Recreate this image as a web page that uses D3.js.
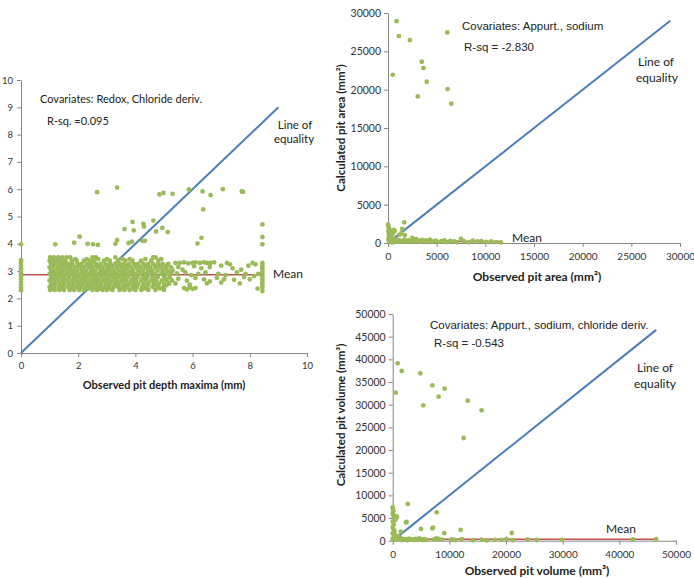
<!DOCTYPE html>
<html>
<head>
<meta charset="utf-8">
<script src="https://cdn.jsdelivr.net/npm/d3@7"></script>
<style>
  body { margin: 0; background: #fff; }
  svg text { font-family: Lato, "Open Sans", sans-serif; }
</style>
</head>
<body>
<div id="chart"></div>
<script>
// ---------- data: pit depth (left panel) ----------
const depthTicks = [0, 2, 4, 6, 8, 10];
const depthTicksY = [0, 1, 2, 3, 4, 5, 6, 7, 8, 9, 10];
const depthEquality = [[0, 0], [9, 9]];
const depthMean = [[0, 2.87], [8.45, 2.87]];

// dense band, one row per predicted level
const depthClusterRows = [
  [3.50, [1.02, 1.15, 1.3, 1.45, 1.6, 1.72, 2.5, 2.62, 3.3, 4.62, 4.7]],
  [3.44, [1.08, 1.38, 1.9, 2.3, 2.7, 3.0, 3.55, 3.8, 4.35, 4.9]],
  [3.38, [1.0, 1.12, 1.25, 1.4, 1.55, 1.78, 1.95, 2.2, 2.4, 2.55, 2.9, 3.1, 3.4, 3.65, 3.9, 4.2, 4.55, 4.8]],
  [3.26, [1.05, 1.2, 1.35, 1.5, 1.65, 1.8, 1.98, 2.12, 2.3, 2.45, 2.62, 2.78, 2.95, 3.12, 3.28, 3.45, 3.6, 3.78, 3.95, 4.1, 4.28, 4.45, 4.62, 4.8, 4.95, 5.15]],
  [3.20, [1.1, 1.46, 1.7, 2.0, 2.35, 2.66, 3.06, 3.4, 3.72, 4.05, 4.4, 4.75, 5.1]],
  [3.14, [1.0, 1.12, 1.28, 1.42, 1.58, 1.72, 1.88, 2.05, 2.2, 2.38, 2.52, 2.7, 2.85, 3.02, 3.18, 3.35, 3.52, 3.68, 3.85, 4.02, 4.18, 4.35, 4.52, 4.7, 4.88, 5.05, 5.25]],
  [3.02, [1.05, 1.2, 1.35, 1.5, 1.66, 1.8, 1.96, 2.12, 2.28, 2.45, 2.6, 2.78, 2.94, 3.1, 3.26, 3.42, 3.6, 3.76, 3.92, 4.1, 4.26, 4.44, 4.6, 4.78, 4.96, 5.12, 5.3]],
  [2.96, [1.08, 1.4, 1.82, 2.15, 2.5, 2.82, 3.22, 3.55, 3.88, 4.22, 4.58, 4.95, 5.25]],
  [2.90, [1.0, 1.14, 1.3, 1.44, 1.6, 1.75, 1.9, 2.06, 2.22, 2.38, 2.54, 2.7, 2.86, 3.02, 3.18, 3.34, 3.5, 3.68, 3.84, 4.0, 4.18, 4.36, 4.52, 4.7, 4.9, 5.08, 5.22]],
  [2.78, [1.06, 1.22, 1.38, 1.52, 1.68, 1.84, 2.0, 2.15, 2.3, 2.46, 2.62, 2.78, 2.95, 3.1, 3.26, 3.42, 3.58, 3.75, 3.92, 4.08, 4.26, 4.42, 4.6, 4.78, 5.0, 5.2]],
  [2.72, [1.1, 1.5, 1.88, 2.2, 2.58, 2.92, 3.3, 3.62, 3.98, 4.32, 4.68, 5.05]],
  [2.66, [1.0, 1.15, 1.3, 1.46, 1.62, 1.78, 1.94, 2.1, 2.25, 2.4, 2.56, 2.72, 2.88, 3.04, 3.2, 3.36, 3.52, 3.68, 3.86, 4.02, 4.2, 4.38, 4.55, 4.72, 4.92, 5.1, 5.28]],
  [2.54, [1.05, 1.2, 1.36, 1.52, 1.68, 1.84, 2.0, 2.16, 2.32, 2.48, 2.64, 2.8, 2.96, 3.12, 3.28, 3.44, 3.6, 3.78, 3.94, 4.1, 4.28, 4.46, 4.64, 4.82, 5.0, 5.18]],
  [2.48, [1.08, 1.44, 1.76, 2.08, 2.4, 2.72, 3.04, 3.36, 3.7, 4.02, 4.36, 4.72, 5.08]],
  [2.42, [1.0, 1.16, 1.32, 1.48, 1.64, 1.8, 1.96, 2.12, 2.28, 2.44, 2.6, 2.76, 2.92, 3.08, 3.24, 3.4, 3.56, 3.72, 3.9, 4.06, 4.24, 4.42, 4.6, 4.8, 4.98]],
  [2.36, [1.12, 1.42, 1.78, 2.36, 2.74, 3.1, 3.54, 3.92, 4.3, 4.86]],
  [2.31, [1.02, 1.18, 1.34, 1.5, 1.7, 1.86, 2.04, 2.2, 2.5, 2.66, 2.85, 3.0, 3.2, 3.45, 3.62, 3.8, 4.0, 4.2, 4.45, 4.7, 5.0]]
];
const depthZero = [[0, 2.3], [0, 2.4], [0, 2.5], [0, 2.6], [0, 2.7], [0, 2.8], [0, 2.9], [0, 3.0], [0, 3.1], [0, 3.2], [0, 3.3], [0, 3.4], [0, 3.98]];
const depthEdge = [[8.44, 2.4], [8.44, 2.5], [8.44, 2.6], [8.44, 2.7], [8.44, 2.8], [8.44, 2.9], [8.44, 3.0], [8.44, 3.1], [8.44, 3.2], [8.44, 3.3],
  [8.44, 3.98], [8.44, 4.25], [8.44, 4.71], [8.44, 2.27], [8.27, 2.36]];
const depthTail = [[5.4, 3.3], [5.55, 3.3], [5.7, 3.32], [5.85, 3.28], [6.0, 3.3], [6.1, 3.32], [6.25, 3.3], [6.4, 3.32], [6.5, 3.3], [6.62, 3.3], [6.75, 3.32], [7.2, 3.3], [7.3, 3.25], [7.7, 3.05], [8.1, 3.3], [8.2, 3.25],
  [5.5, 3.15], [5.65, 3.05], [6.05, 3.18], [6.3, 3.1], [6.6, 3.15], [7.0, 3.2], [7.4, 3.1], [7.95, 3.2],
  [5.45, 2.92], [5.75, 2.95], [5.95, 2.85], [6.2, 2.9], [6.45, 2.95], [6.9, 2.9], [7.15, 2.85], [7.55, 2.95], [7.85, 2.9], [8.15, 2.82], [8.3, 2.9],
  [5.5, 2.72], [5.8, 2.65], [6.1, 2.75], [6.4, 2.7], [6.6, 2.62], [6.85, 2.75], [7.1, 2.7], [7.45, 2.68], [7.8, 2.78], [8.0, 2.7],
  [5.4, 2.55], [5.9, 2.5], [6.5, 2.55], [7.0, 2.58], [7.65, 2.55],
  [5.7, 2.38], [5.8, 2.33], [5.9, 2.4], [6.0, 2.35], [6.1, 2.38]];
const depthHigh = [[1.2, 3.98], [1.86, 4.04], [2.05, 4.26], [2.33, 4.0], [2.52, 3.98], [2.69, 3.96], [2.66, 5.89], [3.36, 6.06], [3.36, 4.13], [3.3, 4.0],
  [3.62, 4.54], [3.76, 4.03], [3.9, 4.8], [3.94, 4.49], [3.88, 4.08], [4.28, 4.73], [4.3, 4.63], [4.24, 4.11], [4.33, 4.11], [4.63, 4.85],
  [4.72, 4.45], [4.84, 5.81], [4.98, 5.86], [4.94, 4.58], [5.13, 4.43], [5.3, 5.83], [5.87, 5.99], [6.17, 4.01], [6.31, 4.22], [6.35, 5.92],
  [6.37, 5.26], [6.63, 5.78], [7.06, 6.0], [7.72, 5.92], [7.76, 5.9]];

// ---------- data: pit area (top right) ----------
const areaTicks = [0, 5000, 10000, 15000, 20000, 25000, 30000];
const areaEquality = [[700, 700], [29000, 29000]];
const areaMean = [[0, 200], [11700, 200]];
const areaHigh = [[890, 28940], [1120, 26990], [2245, 26470], [6090, 27470], [480, 21940], [3470, 23640], [3640, 22820], [3980, 21030], [3060, 19120], [6120, 20080], [6500, 18170]];
const areaNear = [[0, 2400], [60, 2100], [120, 1800], [40, 1500], [200, 1650], [300, 1300], [90, 1100], [180, 900], [400, 1500], [500, 1200],
  [600, 1700], [700, 1550], [350, 700], [250, 500], [80, 300], [150, 150], [300, 250], [450, 400], [550, 100], [700, 300],
  [850, 200], [1000, 450], [1100, 150], [1200, 1100], [1350, 1250], [1460, 1830], [1665, 2700], [1730, 1040],
  [50, 600], [100, 400], [200, 200], [300, 500], [400, 100], [500, 350], [600, 550], [700, 150], [800, 400], [900, 250]];
const areaLow = [[1300, 300], [1500, 200], [1700, 450], [1900, 150], [2100, 350], [2300, 250], [2500, 650], [2550, 400], [2700, 200], [2900, 500],
  [3100, 300], [3300, 150], [3500, 400], [3700, 250], [3900, 350], [4100, 180], [4300, 450], [4600, 200], [4900, 300], [5200, 150],
  [5500, 250], [5800, 350], [6100, 120], [6400, 280], [6800, 200], [7100, 100], [7500, 550], [7800, 250], [8300, 100], [8700, 300],
  [9200, 200], [9600, 250], [10100, 150], [10600, 200], [11100, 120], [11600, 80]];

// ---------- data: pit volume (bottom right) ----------
const volumeTicksX = [0, 10000, 20000, 30000, 40000, 50000];
const volumeTicksY = [0, 5000, 10000, 15000, 20000, 25000, 30000, 35000, 40000, 45000, 50000];
const volumeEquality = [[900, 900], [46500, 46500]];
const volumeMean = [[0, 300], [46500, 300]];
const volumeHigh = [[880, 39130], [1590, 37430], [530, 32640], [4870, 36920], [6990, 34270], [9170, 33520], [8110, 31760], [5400, 29860], [13230, 30880], [15700, 28760], [12520, 22650]];
const volumeNear = [[0, 7400], [50, 7000], [100, 6500], [0, 5900], [300, 5500], [150, 5000], [500, 4600], [760, 5300], [0, 4200], [200, 3600],
  [0, 3000], [100, 2600], [300, 2100], [0, 1600], [500, 1200], [200, 800], [0, 400], [400, 200], [700, 500], [900, 900],
  [1100, 300], [1300, 700], [1430, 2000], [1600, 150], [2350, 4000], [2450, 4150], [4990, 2600], [7000, 2700], [7100, 2900], [7760, 6260],
  [2650, 8100], [9100, 1650], [12000, 2400], [21000, 1700]];
const volumeLow = [[1800, 400], [2000, 200], [2300, 350], [2600, 100], [2900, 450], [3200, 250], [3500, 300], [3800, 150], [4100, 400], [4400, 200],
  [4700, 500], [5000, 300], [5300, 150], [5600, 350], [6000, 200], [7300, 300], [7700, 500], [8100, 400], [8700, 250], [10400, 300],
  [11000, 150], [12200, 350], [14200, 100], [15700, 250], [16600, 50], [18000, 200], [19200, 150], [20100, 400], [21200, 100], [23800, 300],
  [25400, 150], [29800, 200], [42400, 300], [46500, 350]];

const depthCluster = depthClusterRows.flatMap(([y, xs]) => xs.map(x => [x, y]));

// ---------- drawing ----------
const svg = d3.select("#chart").append("svg")
  .attr("width", 694)
  .attr("height", 578);

const axisColor = "#868686";
const dotColor = "#9BBB59";
const arial = "'Liberation Sans', Arial, sans-serif";

function drawPanel(cfg) {
  const x = d3.scaleLinear().domain(cfg.xDomain).range(cfg.xRange);
  const y = d3.scaleLinear().domain(cfg.yDomain).range(cfg.yRange);
  const g = svg.append("g");

  const xAxis = g.append("g")
    .attr("transform", `translate(0,${cfg.yRange[0]})`)
    .call(d3.axisBottom(x).tickValues(cfg.xTicks).tickFormat(d3.format("d")).tickSize(4).tickSizeOuter(0).tickPadding(cfg.xPad));
  const yAxis = g.append("g")
    .attr("transform", `translate(${cfg.xRange[0]},0)`)
    .call(d3.axisLeft(y).tickValues(cfg.yTicks).tickFormat(d3.format("d")).tickSize(4).tickSizeOuter(0).tickPadding(cfg.yPad));
  [xAxis, yAxis].forEach(a => {
    a.select(".domain").attr("stroke", axisColor);
    a.selectAll(".tick line").attr("stroke", axisColor);
    a.selectAll(".tick text").attr("fill", "#333").style("font-size", cfg.tickFont + "px");
  });
  xAxis.selectAll(".tick text").style("font-size", (cfg.xTickFont || cfg.tickFont) + "px");

  const line = d3.line().x(d => x(d[0])).y(d => y(d[1]));
  g.append("path").datum(cfg.mean)
    .attr("d", line).attr("fill", "none").attr("stroke", "#C0504D").attr("stroke-width", 1.5);
  g.append("path").datum(cfg.equality)
    .attr("d", line).attr("fill", "none").attr("stroke", "#4A7EBB").attr("stroke-width", 2);

  g.selectAll("circle.pt").data(cfg.points).enter().append("circle")
    .attr("class", "pt")
    .attr("cx", d => x(d[0]))
    .attr("cy", d => y(d[1]))
    .attr("r", 2.4)
    .attr("fill", dotColor);

  cfg.labels.forEach(l => {
    g.append("text")
      .attr("x", l.x).attr("y", l.y)
      .attr("text-anchor", l.anchor || "start")
      .style("font-size", l.size + "px")
      .style("font-family", l.font || null)
      .style("font-weight", l.bold ? "bold" : null)
      .attr("fill", "#222")
      .attr("transform", l.rotate ? `rotate(-90,${l.x},${l.y})` : null)
      .text(l.text);
  });
}

drawPanel({
  xDomain: [0, 10], xRange: [21, 307],
  yDomain: [0, 10], yRange: [353, 80],
  xTicks: depthTicks, yTicks: depthTicksY,
  xPad: 5, yPad: 4, tickFont: 9.5,
  mean: depthMean, equality: depthEquality,
  points: [...depthZero, ...depthCluster, ...depthTail, ...depthEdge, ...depthHigh],
  labels: [
    { text: "Covariates: Redox, Chloride deriv.", x: 40, y: 103, size: 11 },
    { text: "R-sq. =0.095", x: 47, y: 125, size: 11 },
    { text: "Line of", x: 295, y: 129, size: 11.5, anchor: "middle" },
    { text: "equality", x: 294, y: 143, size: 11.5, anchor: "middle" },
    { text: "Mean", x: 273, y: 278, size: 12 },
    { text: "Observed pit depth maxima (mm)", x: 164, y: 389, size: 11, bold: true, anchor: "middle" }
  ]
});

drawPanel({
  xDomain: [0, 30000], xRange: [388, 680],
  yDomain: [0, 30000], yRange: [243, 13],
  xTicks: areaTicks, yTicks: areaTicks,
  xPad: 6, yPad: 3, tickFont: 10.5, xTickFont: 10,
  mean: areaMean, equality: areaEquality,
  points: [...areaNear, ...areaLow, ...areaHigh],
  labels: [
    { text: "Covariates: Appurt., sodium", x: 462, y: 30, size: 11.5, font: arial },
    { text: "R-sq = -2.830", x: 464, y: 51, size: 11.5, font: arial },
    { text: "Line of", x: 656, y: 66, size: 12, anchor: "middle" },
    { text: "equality", x: 657, y: 82, size: 12, anchor: "middle" },
    { text: "Mean", x: 512, y: 242, size: 12 },
    { text: "Observed pit area (mm²)", x: 537, y: 281, size: 12, bold: true, anchor: "middle" },
    { text: "Calculated pit area (mm²)", x: 345, y: 128, size: 11.5, bold: true, anchor: "middle", rotate: true }
  ]
});

drawPanel({
  xDomain: [0, 50000], xRange: [392.7, 676],
  yDomain: [0, 50000], yRange: [540.7, 314],
  xTicks: volumeTicksX, yTicks: volumeTicksY,
  xPad: 6, yPad: 3, tickFont: 10.5, xTickFont: 10,
  mean: volumeMean, equality: volumeEquality,
  points: [...volumeNear, ...volumeLow, ...volumeHigh],
  labels: [
    { text: "Covariates: Appurt., sodium, chloride deriv.", x: 430, y: 329, size: 11.5, font: arial },
    { text: "R-sq = -0.543", x: 434, y: 347, size: 11.5, font: arial },
    { text: "Line of", x: 655, y: 372, size: 12, anchor: "middle" },
    { text: "equality", x: 655, y: 388, size: 12, anchor: "middle" },
    { text: "Mean", x: 606, y: 533, size: 12 },
    { text: "Observed pit volume (mm³)", x: 537, y: 575, size: 12, bold: true, anchor: "middle" },
    { text: "Calculated pit volume (mm³)", x: 345, y: 415, size: 11.5, bold: true, anchor: "middle", rotate: true }
  ]
});
</script>
</body>
</html>
